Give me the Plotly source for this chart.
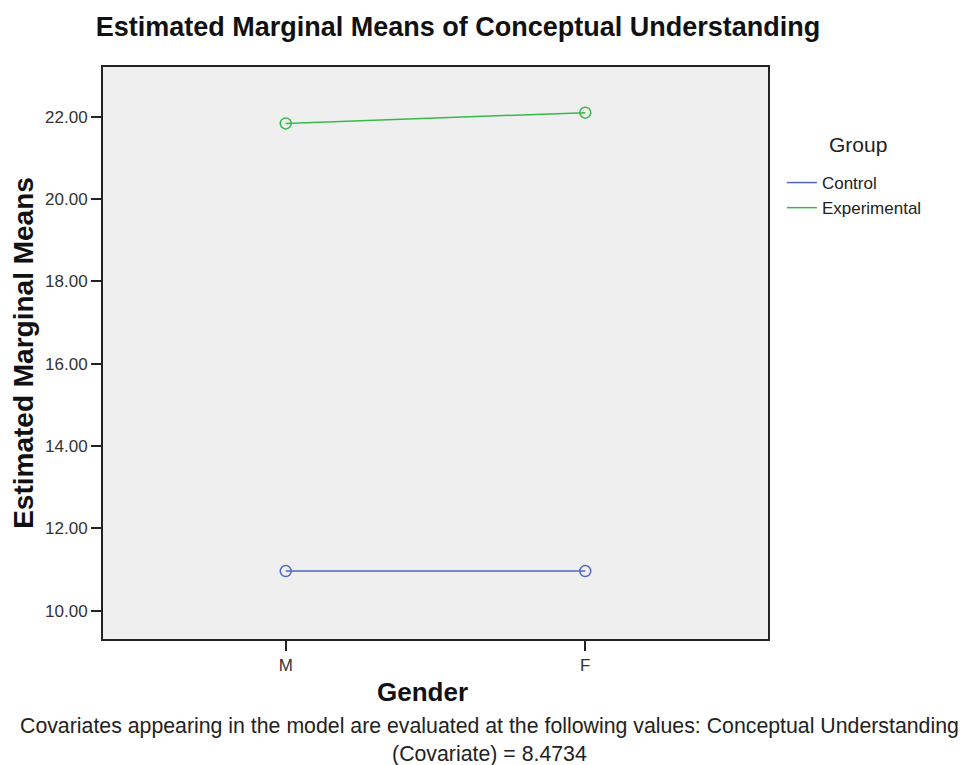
import plotly.graph_objects as go

genders = ["M", "F"]
groups = ["Control", "Experimental"]
control_means = [10.96, 10.96]
experimental_means = [21.84, 22.10]
y_ticks = [10, 12, 14, 16, 18, 20, 22]
y_tick_labels = ["10.00", "12.00", "14.00", "16.00", "18.00", "20.00", "22.00"]

colors = {"Control": "#5066c2", "Experimental": "#38b84a"}
values = {"Control": control_means, "Experimental": experimental_means}

fig = go.Figure()
for g in groups:
    fig.add_trace(go.Scatter(
        x=[0, 1], y=values[g], mode="lines", name=g, legendgroup=g,
        line=dict(color=colors[g], width=1.5),
    ))
    fig.add_trace(go.Scatter(
        x=[0, 1], y=values[g], mode="markers", name=g, legendgroup=g, showlegend=False,
        marker=dict(symbol="circle-open", size=11, color=colors[g], line=dict(width=1.5)),
    ))

FONT = "Liberation Sans, Arial, sans-serif"
W, H = 968, 757
L, T, R, B = 91, 59, 208, 126
PW, PH = W - L - R, H - T - B
BOT = T + PH

fig.update_layout(
    width=W, height=H,
    margin=dict(l=L, r=R, t=T, b=B),
    paper_bgcolor="white", plot_bgcolor="#efefef",
    font=dict(family=FONT, color="#222"),
    title=dict(text="<b>Estimated Marginal Means of Conceptual Understanding</b>",
               x=450 / W, xanchor="center", y=1 - 19 / H, yanchor="middle",
               font=dict(size=27, color="#111")),
    showlegend=True,
    legend=dict(x=(774 - L) / PW, xanchor="left", y=(BOT - 157) / PH, yanchor="top",
                font=dict(size=17, color="#222"), bgcolor="rgba(0,0,0,0)",
                itemwidth=30, tracegroupgap=0),
    xaxis=dict(range=[-0.61, 1.61], tickvals=[0, 1], ticktext=genders,
               showgrid=False, zeroline=False, showline=True, linecolor="#222", linewidth=2,
               mirror=True, ticks="outside", ticklen=10, tickcolor="#222", tickwidth=1.5,
               tickfont=dict(size=17, color="#333")),
    yaxis=dict(range=[9.31, 23.21], tickvals=y_ticks, ticktext=y_tick_labels,
               showgrid=False, zeroline=False, showline=True, linecolor="#222", linewidth=2,
               mirror=True, ticks="outside", ticklen=10, tickcolor="#222", tickwidth=1.5,
               tickfont=dict(size=17, color="#333"),
               title=dict(text="<b>Estimated Marginal Means</b>", font=dict(size=28, color="#111"), standoff=5)),
)

# legend title
fig.add_annotation(
    text="Group", xref="paper", yref="paper", x=(851 - L) / PW, y=(BOT - 136) / PH,
    xanchor="center", yanchor="middle", showarrow=False,
    font=dict(size=21, color="#222", family=FONT),
)
# x-axis title
fig.add_annotation(
    text="<b>Gender</b>", xref="paper", yref="paper", x=(412 - L) / PW, y=-(684 - BOT) / PH,
    xanchor="center", yanchor="middle", showarrow=False,
    font=dict(size=26, color="#111", family=FONT),
)
# footnote
fig.add_annotation(
    text="Covariates appearing in the model are evaluated at the following values: Conceptual Understanding<br>(Covariate) = 8.4734",
    xref="paper", yref="paper", x=(480 - L) / PW, y=-(704 - BOT) / PH,
    xanchor="center", yanchor="top", showarrow=False, align="center",
    font=dict(size=21.3, color="#222", family=FONT),
)

fig.write_html("out.html")
